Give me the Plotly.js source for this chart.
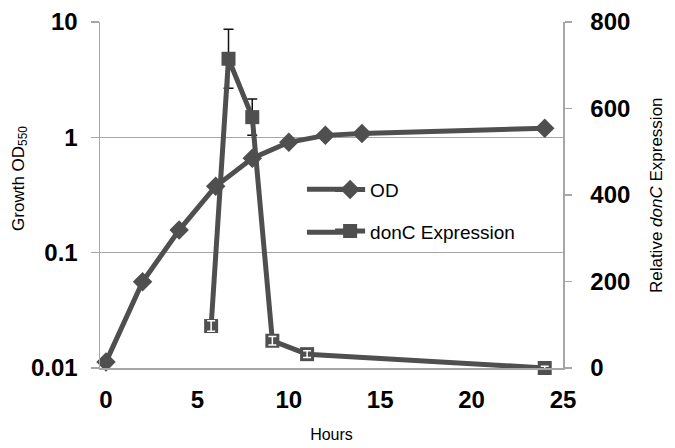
<!DOCTYPE html>
<html>
<head>
<meta charset="utf-8">
<script src="https://cdn.plot.ly/plotly-3.0.1.min.js"></script>
<style>html,body{margin:0;padding:0;background:#fff}#chart{width:675px;height:448px}</style>
</head>
<body>
<div id="chart"></div>
<script>
// Growth (OD550, left log axis)
const odHours = [0, 2, 4, 6, 8, 10, 12, 14, 24];
const odValues = [0.0113, 0.056, 0.157, 0.377, 0.657, 0.906, 1.04, 1.08, 1.2];

// Relative donC expression (right axis)
const donHours = [5.75, 6.7, 8, 9.1, 11, 24];
const donValues = [97, 715, 580, 63, 32, 0];
const donErrors = [12, 68, 42, 10, 8, 4];

const xTicks = [0, 5, 10, 15, 20, 25];
const leftTicks = [0.01, 0.1, 1, 10];
const leftTickText = ['0.01', '0.1', '1', '10'];
const rightTicks = [0, 200, 400, 600, 800];

const leftTitle = 'Growth OD<sub>550</sub>';
const rightTitle = 'Relative <i>donC</i> Expression';

const dark = '#4f4f4f';
const axisGray = '#a6a6a6';

const traces = [
  {
    x: odHours, y: odValues, name: 'OD', type: 'scatter', mode: 'lines+markers',
    legendgroup: 'a',
    line: {color: dark, width: 5},
    marker: {symbol: 'diamond', size: 15, color: dark},
    cliponaxis: false
  },
  {
    x: donHours, y: donValues, name: 'donC Expression', type: 'scatter', mode: 'lines+markers',
    yaxis: 'y2', legendgroup: 'b',
    line: {color: dark, width: 5},
    marker: {symbol: 'square', size: 14, color: dark},
    error_y: {type: 'data', array: donErrors, visible: true, color: '#111', thickness: 1.5, width: 5},
    cliponaxis: false
  },
  {
    // white error bars drawn over the small markers
    x: donHours.filter((h, i) => donValues[i] < 200),
    y: donValues.filter(v => v < 200),
    yaxis: 'y2', type: 'scatter', mode: 'markers', showlegend: false, hoverinfo: 'skip',
    legendgroup: 'c',
    marker: {size: 1, color: 'rgba(0,0,0,0)'},
    error_y: {type: 'data', array: donErrors.filter((e, i) => donValues[i] < 200), visible: true, color: '#ffffff', thickness: 1.5, width: 4},
    cliponaxis: false
  }
];

// longer legend line stubs (Excel style)
const legendStub = (yp) => ({type: 'line', xref: 'paper', yref: 'paper',
  x0: 0.447, x1: 0.53, y0: yp, y1: yp, line: {color: dark, width: 5}});

const layout = {
  width: 675, height: 448,
  margin: {l: 100, r: 112, t: 22, b: 80},
  paper_bgcolor: '#fff', plot_bgcolor: '#fff',
  font: {family: 'Liberation Sans, Arial, sans-serif', color: '#000'},
  showlegend: true,
  legend: {
    x: 0.497, y: 0.455, xanchor: 'left', yanchor: 'middle',
    bgcolor: 'rgba(255,255,255,0)', borderwidth: 0,
    font: {size: 19, color: '#000'},
    traceorder: 'grouped', tracegroupgap: 14
  },
  shapes: [legendStub(0.5165), legendStub(0.392)],
  xaxis: {
    range: [-0.33, 25], tickvals: xTicks, ticktext: xTicks.map(String),
    showgrid: false, zeroline: false, showline: true, linecolor: axisGray, linewidth: 1.5,
    ticks: '', ticklabelstandoff: 10,
    tickfont: {size: 24, weight: 'bold'},
    title: {text: 'Hours', font: {size: 16}, standoff: 16}
  },
  yaxis: {
    type: 'log', range: [-2, 1], tickvals: leftTicks, ticktext: leftTickText,
    showgrid: true, gridcolor: axisGray, gridwidth: 1.5,
    showline: true, linecolor: axisGray, linewidth: 1.5,
    ticks: 'outside', ticklen: 8, tickcolor: axisGray, tickwidth: 1.5,
    ticklabelstandoff: 8,
    tickfont: {size: 24, weight: 'bold'}
  },
  yaxis2: {
    overlaying: 'y', side: 'right', range: [0, 800], tickvals: rightTicks,
    showgrid: false, zeroline: false,
    showline: true, linecolor: axisGray, linewidth: 1.5,
    ticks: 'outside', ticklen: 7, tickcolor: axisGray, tickwidth: 1.5,
    ticklabelstandoff: 14,
    tickfont: {size: 24, weight: 'bold'}
  },
  annotations: [
    {text: leftTitle, xref: 'paper', yref: 'paper', x: -0.173, y: 0.549,
     xanchor: 'center', yanchor: 'middle', textangle: -90, showarrow: false,
     font: {size: 17}},
    {text: rightTitle, xref: 'paper', yref: 'paper', x: 1.201, y: 0.5,
     xanchor: 'center', yanchor: 'middle', textangle: -90, showarrow: false,
     font: {size: 17}}
  ]
};

Plotly.newPlot('chart', traces, layout, {staticPlot: true, displayModeBar: false});
</script>
</body>
</html>
